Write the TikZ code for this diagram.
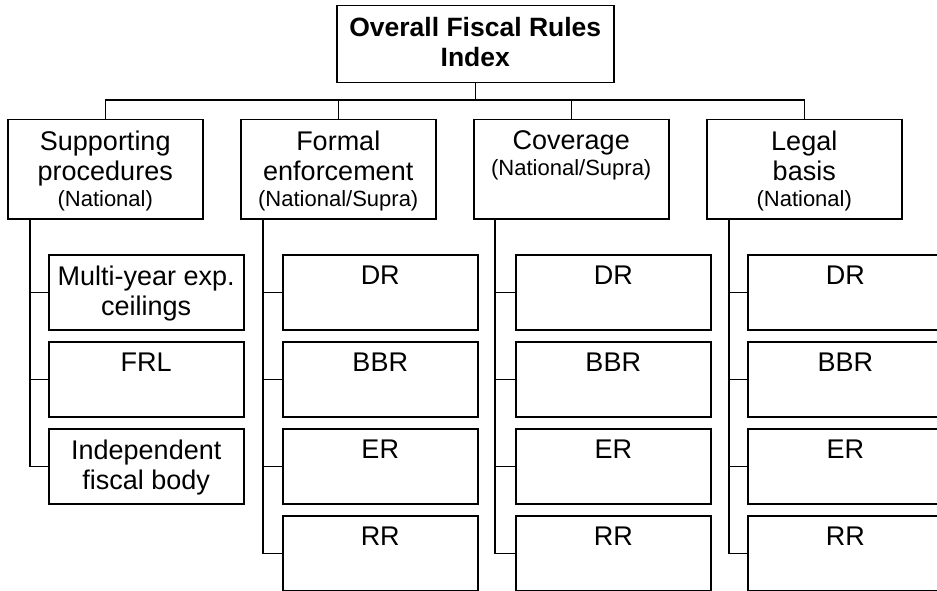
\documentclass[tikz,border=0pt]{standalone}
\usepackage{fontspec}
\setmainfont{Liberation Sans}
\usetikzlibrary{calc}

% box contents: width, height, top padding, text (top aligned, centred)
\newcommand{\boxtxt}[4]{\parbox[c][#2][t]{#1}{\centering\vspace*{#3}#4\par}}
% smaller scope note under a heading
\newcommand{\scopenote}[1]{\par{\fontsize{22}{26}\selectfont #1\par}}

\tikzset{
  framebox/.style={draw, line width=1.5pt, inner sep=0pt, anchor=north west,
                   font=\fontsize{27}{30}\selectfont},
  link/.style={line width=1.5pt, line cap=rect}
}

\begin{document}
\begin{tikzpicture}[x=1pt, y=-1pt]
\useasboundingbox (0,0) rectangle (937,591);
\clip (0,0) rectangle (937,591);

% root
\node[framebox, font=\fontsize{26.5}{30}\selectfont\bfseries] (root) at (336,5)
  {\boxtxt{277pt}{77pt}{12pt}{Overall Fiscal Rules\\Index}};

% first level
\node[framebox] (sup) at (7,119)
  {\boxtxt{195pt}{99pt}{11pt}{Supporting\\procedures\scopenote{(National)}}};
\node[framebox] (frm) at (240,119)
  {\boxtxt{195pt}{99pt}{11pt}{Formal\\enforcement\scopenote{(National/Supra)}}};
\node[framebox] (cov) at (473,119)
  {\boxtxt{195pt}{99pt}{11pt}{Coverage\scopenote{(National/Supra)}}};
\node[framebox] (leg) at (706,119)
  {\boxtxt{195pt}{99pt}{11pt}{Legal\\basis\scopenote{(National)}}};

% second level: supporting procedures
\node[framebox] (s1) at (48,254) {\boxtxt{195pt}{75pt}{11pt}{Multi-year exp.\\ceilings}};
\node[framebox] (s2) at (48,341) {\boxtxt{195pt}{75pt}{11pt}{FRL}};
\node[framebox] (s3) at (48,428) {\boxtxt{195pt}{75pt}{11pt}{Independent\\fiscal body}};

% second level: formal enforcement
\node[framebox] (f1) at (282,254) {\boxtxt{195pt}{75pt}{11pt}{DR}};
\node[framebox] (f2) at (282,341) {\boxtxt{195pt}{75pt}{11pt}{BBR}};
\node[framebox] (f3) at (282,428) {\boxtxt{195pt}{75pt}{11pt}{ER}};
\node[framebox] (f4) at (282,515) {\boxtxt{195pt}{75pt}{11pt}{RR}};

% second level: coverage
\node[framebox] (c1) at (515,254) {\boxtxt{195pt}{75pt}{11pt}{DR}};
\node[framebox] (c2) at (515,341) {\boxtxt{195pt}{75pt}{11pt}{BBR}};
\node[framebox] (c3) at (515,428) {\boxtxt{195pt}{75pt}{11pt}{ER}};
\node[framebox] (c4) at (515,515) {\boxtxt{195pt}{75pt}{11pt}{RR}};

% second level: legal basis
\node[framebox] (l1) at (747,254) {\boxtxt{195pt}{75pt}{11pt}{DR}};
\node[framebox] (l2) at (747,341) {\boxtxt{195pt}{75pt}{11pt}{BBR}};
\node[framebox] (l3) at (747,428) {\boxtxt{195pt}{75pt}{11pt}{ER}};
\node[framebox] (l4) at (747,515) {\boxtxt{195pt}{75pt}{11pt}{RR}};

% root to first level bus
\coordinate (bus) at (0,100);
\draw[link] (root.south) -- (root.south |- bus);
\draw[link] (sup.north) -- (sup.north |- bus) -- (leg.north |- bus) -- (leg.north);
\draw[link] (frm.north |- bus) -- (frm.north);
\draw[link] (cov.north |- bus) -- (cov.north);

% stems down to the children
\coordinate (st1) at ($(sup.south west)+(23,0)$);
\coordinate (st2) at ($(frm.south west)+(23,0)$);
\coordinate (st3) at ($(cov.south west)+(22,0)$);
\coordinate (st4) at ($(leg.south west)+(23,0)$);

\draw[link] (st1) |- (s3.west);
\draw[link] (st1 |- s1.west) -- (s1.west);
\draw[link] (st1 |- s2.west) -- (s2.west);

\draw[link] (st2) |- (f4.west);
\foreach \k in {f1,f2,f3} \draw[link] (st2 |- \k.west) -- (\k.west);

\draw[link] (st3) |- (c4.west);
\foreach \k in {c1,c2,c3} \draw[link] (st3 |- \k.west) -- (\k.west);

\draw[link] (st4) |- (l4.west);
\foreach \k in {l1,l2,l3} \draw[link] (st4 |- \k.west) -- (\k.west);
\end{tikzpicture}
\end{document}
